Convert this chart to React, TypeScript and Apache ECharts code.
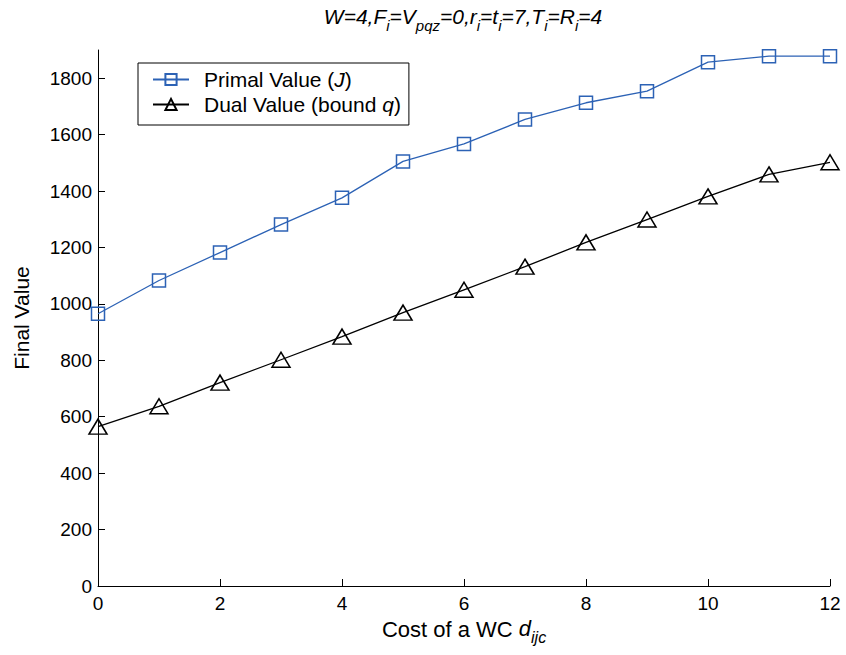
import React, { useEffect, useRef } from "react";
import * as echarts from "echarts";

const costs = [0, 1, 2, 3, 4, 5, 6, 7, 8, 9, 10, 11, 12];
const primalValues = [965, 1083, 1182, 1281, 1376, 1505, 1567, 1654, 1713, 1754, 1857, 1878, 1878];
const dualValues = [565, 637, 721, 802, 884, 969, 1050, 1132, 1218, 1299, 1381, 1459, 1502];
const seriesNames = ["Primal Value (J)", "Dual Value (bound q)"];

const BLUE = "#2c62b5";
const FONT = "'Liberation Sans', Arial, Helvetica, sans-serif";

export default function App() {
  const ref = useRef<HTMLDivElement>(null);
  useEffect(() => {
    if (!ref.current) return;
    const chart = echarts.init(ref.current, null, { renderer: "svg" });
    const titleRich = {
      n: { fontSize: 21, fontStyle: "italic", fontFamily: FONT, color: "#000", lineHeight: 22, verticalAlign: "top" },
      s: { fontSize: 15, fontStyle: "italic", fontFamily: FONT, color: "#000", lineHeight: 16, padding: [12, 0, 0, 0], verticalAlign: "top" },
    };
    chart.setOption({
      animation: false,
      backgroundColor: "#fff",
      textStyle: { fontFamily: FONT, color: "#000" },
      grid: { left: 98, right: 16, top: 50, bottom: 69 },
      graphic: [
        {
          type: "text",
          x: 463,
          y: 6,
          style: {
            text:
              "{n|W=4,F}{s|i}{n|=V}{s|pqz}{n|=0,r}{s|i}{n|=t}{s|i}{n|=7,T}{s|i}{n|=R}{s|i}{n|=4}",
            rich: titleRich,
            align: "center",
            verticalAlign: "top",
          },
        },
      ],
      legend: {
        orient: "vertical",
        left: 138,
        top: 63,
        data: seriesNames,
        backgroundColor: "#fff",
        borderColor: "#000",
        borderWidth: 1,
        borderRadius: 0,
        padding: [6, 8, 10, 14],
        itemGap: 4,
        itemWidth: 36,
        itemHeight: 14,
        formatter: (name: string) =>
          name === seriesNames[0]
            ? "{p|Primal Value (}{it|J}{a|)}"
            : "{p|Dual Value (bound }{it|q}{a|)}",
        textStyle: {
          fontSize: 21,
          color: "#000",
          fontFamily: FONT,
          rich: {
            p: { fontSize: 21, fontFamily: FONT, color: "#000", padding: [0, 0, 0, 10] },
            a: { fontSize: 21, fontFamily: FONT, color: "#000" },
            it: { fontSize: 21, fontFamily: FONT, color: "#000", fontStyle: "italic" },
          },
        },
      },
      xAxis: {
        type: "value",
        min: 0,
        max: 12,
        interval: 2,
        name: "Cost of a WC {it|d}{s|ijc}",
        nameLocation: "middle",
        nameGap: 28,
        nameTextStyle: {
          fontSize: 22,
          color: "#000",
          fontFamily: FONT,
          rich: {
            it: { fontSize: 22, fontStyle: "italic", fontFamily: FONT, color: "#000", verticalAlign: "top", lineHeight: 24 },
            s: { fontSize: 16, fontStyle: "italic", fontFamily: FONT, color: "#000", verticalAlign: "top", lineHeight: 17, padding: [12, 0, 0, 0] },
          },
        },
        axisLine: { show: true, onZero: false, lineStyle: { color: "#000", width: 1 } },
        axisTick: { show: true, inside: true, length: 7, lineStyle: { color: "#000" } },
        axisLabel: { fontSize: 19, color: "#000", margin: 8, fontFamily: FONT },
        splitLine: { show: false },
      },
      yAxis: {
        type: "value",
        min: 0,
        max: 1900,
        interval: 200,
        name: "Final Value",
        nameLocation: "middle",
        nameGap: 66,
        nameTextStyle: { fontSize: 21, color: "#000", fontFamily: FONT },
        axisLine: { show: true, onZero: false, lineStyle: { color: "#000", width: 1 } },
        axisTick: { show: true, inside: true, length: 7, lineStyle: { color: "#000" } },
        axisLabel: {
          fontSize: 19,
          color: "#000",
          margin: 6,
          fontFamily: FONT,
          showMaxLabel: false,
          formatter: (v: number) => String(v),
        },
        splitLine: { show: false },
      },
      series: [
        {
          name: seriesNames[0],
          type: "line",
          data: costs.map((c, i) => [c, primalValues[i]]),
          symbol: "rect",
          symbolSize: 13,
          showSymbol: true,
          lineStyle: { color: BLUE, width: 1.3 },
          itemStyle: { color: "rgba(255,255,255,0)", borderColor: BLUE, borderWidth: 1.5 },
          emphasis: { disabled: true },
          z: 3,
        },
        {
          name: seriesNames[1],
          type: "line",
          data: costs.map((c, i) => [c, dualValues[i]]),
          symbol: "triangle",
          symbolSize: [18, 15],
          showSymbol: true,
          lineStyle: { color: "#000", width: 1.3 },
          itemStyle: { color: "rgba(255,255,255,0)", borderColor: "#000", borderWidth: 1.5 },
          emphasis: { disabled: true },
          z: 2,
        },
      ],
    });
    return () => chart.dispose();
  }, []);
  return (
    <div
      ref={ref}
      style={{ position: "fixed", left: 0, top: 0, width: 846, height: 655 }}
    />
  );
}
